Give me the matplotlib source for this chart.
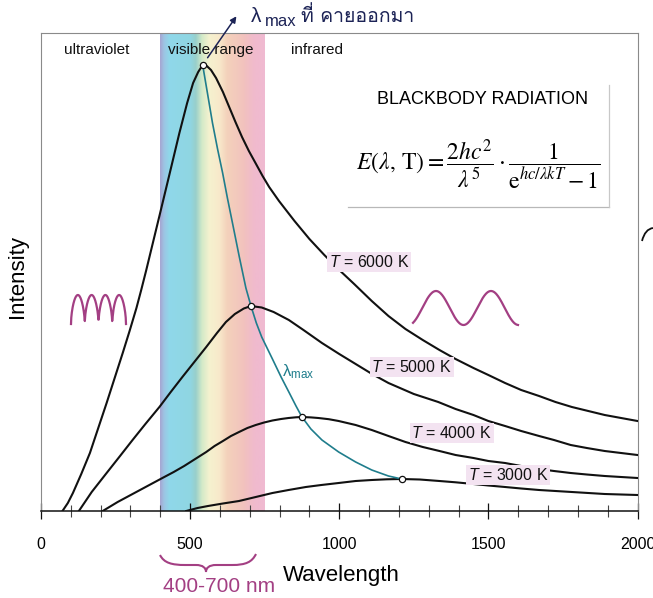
import matplotlib
matplotlib.use("Agg")
import matplotlib.pyplot as plt
import numpy as np
from matplotlib import font_manager
from matplotlib.ft2font import FT2Font
from matplotlib.colors import LinearSegmentedColormap
from matplotlib.lines import Line2D
from matplotlib.patches import PathPatch
from matplotlib.path import Path

# ── data (arbitrary intensity units) ─────────────────────────────────────────
WL_6000 = [72, 90, 107, 135, 164, 192, 220, 247, 274, 297, 320, 336, 353, 375,
           397, 431, 464, 490, 510, 527, 542, 556, 570, 587, 610, 631, 652, 674,
           697, 721, 743, 765, 798, 850, 900, 950, 1000, 1050, 1109, 1165, 1222,
           1280, 1336, 1390, 1450, 1500, 1556, 1610, 1670, 1725, 1780, 1835,
           1890, 1945, 2000]
INT_6000 = [0, 8, 18, 37, 58, 83, 108, 133, 158, 180, 203, 221, 241, 268,
            295, 337, 378, 408, 428, 439, 446, 445, 441, 433, 419, 404, 389, 374,
            360, 347, 335, 324, 310, 290, 272, 256, 241, 227, 210, 195, 182,
            171, 161, 152, 143, 136, 128, 121, 115, 109, 104, 100,
            96, 93, 90]

WL_5000 = [127, 170, 220, 265, 307, 350, 397, 435, 474, 514, 554, 590, 620, 650,
           680, 704, 740, 780, 831, 880, 942, 1000, 1055, 1110, 1165, 1250, 1332,
           1390, 1450, 1500, 1556, 1610, 1670, 1720, 1776, 1830, 1890, 1945, 2000]
INT_5000 = [0, 19, 38, 55, 71, 87, 104, 119, 134, 149, 164, 178, 189, 197,
            202.5, 205, 203.5, 199, 191, 181, 168, 157, 147, 137, 128, 117, 109,
            102, 96, 90, 85, 80, 75, 71, 66, 63, 60, 58, 56]

WL_4000 = [207, 257, 307, 357, 407, 445, 480, 517, 554, 582, 610, 637, 664, 692,
           720, 748, 776, 805, 830, 855, 875, 905, 930, 965, 998, 1055, 1109,
           1165, 1222, 1280, 1336, 1390, 1450, 1500, 1556, 1610, 1670, 1720,
           1776, 1830, 1890, 1945, 2000]
INT_4000 = [0, 9, 17, 25, 33, 39, 45, 52, 59, 65, 70, 75, 79, 83,
            86, 88.5, 90.5, 92, 93, 93.7, 94, 93.6, 93, 91.8, 90, 86, 81,
            75, 69, 64, 60, 56, 53, 50, 48, 45, 42, 40,
            38, 36.5, 35, 34, 33]

WL_3000 = [487, 525, 560, 610, 664, 720, 776, 830, 888, 940, 998, 1055, 1109,
           1160, 1209, 1270, 1336, 1390, 1450, 1500, 1556, 1610, 1670, 1725,
           1780, 1835, 1890, 1945, 2000]
INT_3000 = [0, 3, 5, 7.5, 10, 14, 18, 21, 24, 26, 28, 30, 31,
            31.7, 32, 31.5, 30, 28.7, 27, 25.5, 24, 22.5, 21, 20,
            19, 18, 17, 16.5, 16]

# locus of the peaks (lambda_max)
WL_MAX = [542, 558, 575, 592, 609, 625, 642, 665, 687, 704, 722, 740, 758, 776,
          805, 831, 855, 875, 905, 942, 970, 998, 1055, 1109, 1165, 1209]
INT_MAX = [446, 418, 388, 362, 338, 313, 288, 254, 223, 205, 188, 174, 163, 152,
           134, 119, 105, 94, 82, 71, 65, 59, 49, 41, 35, 32]

PEAK_WL = [542, 704, 875, 1209]
PEAK_INT = [446, 205, 94, 32]

TEMPS = [6000, 5000, 4000, 3000]
LABEL_WL = [965, 1108, 1242, 1432]
LABEL_INT = [249, 144, 78, 36]

VISIBLE = (400, 750)
XTICKS = [0, 500, 1000, 1500, 2000]

# ── style ────────────────────────────────────────────────────────────────────
W, H = 653, 598
INK = "#111111"
TEAL = "#1f7d8c"
NAVY = "#1c2356"
PEN = "#a33f83"
HILITE = "#f3e3f1"

plt.rcParams["font.family"] = ["Liberation Sans", "DejaVu Sans"]
plt.rcParams["mathtext.fontset"] = "custom"
plt.rcParams["mathtext.rm"] = "Liberation Sans"
plt.rcParams["mathtext.it"] = "Liberation Sans:italic"


def thai_family():
    for f in font_manager.fontManager.ttflist:
        try:
            if FT2Font(f.fname).get_char_index(0x0E04):
                return f.name
        except Exception:
            continue
    return "DejaVu Sans"


def px(x, y):
    """pixel position in the picture -> figure fraction"""
    return x / W, 1 - y / H


fig = plt.figure(figsize=(W / 100, H / 100), dpi=100)
fig.patch.set_facecolor("white")
ax = fig.add_axes([41 / W, (H - 511) / H, (637.5 - 41) / W, (511 - 33) / H])
YTOP = 478
ax.set_xlim(0, 2000)
ax.set_ylim(0, YTOP)

# visible band
spec = LinearSegmentedColormap.from_list("spec", [
    (0.00, "#a6a6d2"), (0.04, "#9cc6e4"), (0.09, "#8fd8ea"), (0.29, "#90d6e2"),
    (0.34, "#98cfcb"), (0.40, "#d3eac8"), (0.47, "#f5f2cf"), (0.57, "#f8e8ca"),
    (0.64, "#f4d2bb"), (0.80, "#f2c2be"), (0.90, "#f0bacd"), (1.00, "#f0bad2")])
ax.imshow(np.linspace(0, 1, 256)[None, :], cmap=spec, aspect="auto",
          extent=[VISIBLE[0], VISIBLE[1], 0, YTOP], zorder=0)

for wl, it in [(WL_6000, INT_6000), (WL_5000, INT_5000),
               (WL_4000, INT_4000), (WL_3000, INT_3000)]:
    ax.plot(wl, it, color=INK, lw=1.5, zorder=3, solid_joinstyle="round")

ax.plot(WL_MAX, INT_MAX, color=TEAL, lw=1.2, zorder=4)
ax.plot(PEAK_WL, PEAK_INT, "o", ms=4.5, mfc="white", mec=INK, mew=0.9, zorder=5)

for t, lw_, li in zip(TEMPS, LABEL_WL, LABEL_INT):
    ax.text(lw_, li, f"$T$ = {t} K", fontsize=11.5, ha="left", va="center",
            color=INK, zorder=6,
            bbox=dict(boxstyle="square,pad=0.12", fc=HILITE, ec="none"))

ax.text(808, 139, r"λ$_{\mathrm{max}}$", color=TEAL, fontsize=12,
        ha="left", va="center", zorder=6)

for txt, xw in [("ultraviolet", 187), ("visible range", 568), ("infrared", 925)]:
    ax.text(xw, 461, txt, fontsize=11, ha="center", va="center", color=INK, zorder=6)

# axes look
for s in ["top", "right", "left"]:
    ax.spines[s].set_color("#8a8a8a")
    ax.spines[s].set_linewidth(0.8)
ax.spines["bottom"].set_color(INK)
ax.spines["bottom"].set_linewidth(1.1)
ax.set_yticks([])
ax.set_xticks(XTICKS)
ax.set_xticks(np.arange(0, 2001, 100), minor=True)
ax.tick_params(axis="x", which="major", length=12, width=0.9, direction="inout",
               color=INK, labelsize=11.5, pad=13)
ax.tick_params(axis="x", which="minor", length=8, width=0.8, direction="inout",
               color="#444444")

fig.text(*px(341, 575), "Wavelength", fontsize=16, ha="center", va="center")
fig.text(*px(18, 277), "Intensity", fontsize=16, ha="center", va="center",
         rotation=90)

# title box with formula
fig.text(*px(483, 100), "BLACKBODY RADIATION", fontsize=13, ha="center", va="center")
fig.text(*px(478, 165),
         r"$E(\lambda,\,\mathrm{T}) = \dfrac{2hc^2}{\lambda^5}\cdot"
         r"\dfrac{1}{\mathrm{e}^{hc/\lambda kT}\,\mathrm{-}\,1}$",
         fontsize=17, ha="center", va="center", math_fontfamily="stix")
fig.add_artist(Line2D([348 / W, 609 / W], [1 - 207 / H] * 2, color="#b8b8b8",
                      lw=0.9, transform=fig.transFigure))
fig.add_artist(Line2D([609 / W] * 2, [1 - 85 / H, 1 - 207 / H], color="#c8c8c8",
                      lw=0.9, transform=fig.transFigure))

# ── hand-written notes ───────────────────────────────────────────────────────
ax.annotate("", xy=px(238, 14), xycoords="figure fraction",
            xytext=px(206, 60), textcoords="figure fraction",
            arrowprops=dict(arrowstyle="-|>", color=NAVY, lw=1.1, mutation_scale=9),
            annotation_clip=False)
thai = thai_family()
fig.text(*px(251, 17), "λ", fontsize=15, color=NAVY, ha="left", va="center")
fig.text(*px(265, 22), "max", fontsize=12, color=NAVY, ha="left", va="center")
fig.text(*px(301, 16), "ที่ คายออกมา", fontsize=14, color=NAVY, ha="left",
         va="center", family=[thai, "DejaVu Sans"])

# squiggles (doodles only)
t = np.linspace(0, 1, 200)
xs = 71 + 55 * t
ys = 324 - 29 * np.abs(np.sin(4 * np.pi * t)) ** 0.55
fig.add_artist(Line2D(xs / W, 1 - ys / H, color=PEN, lw=1.6,
                      transform=fig.transFigure))
xs = np.linspace(413, 518, 200)
ys = 308 - 17 * np.cos(2 * np.pi * (xs - 436) / 55)
fig.add_artist(Line2D(xs / W, 1 - ys / H, color=PEN, lw=1.6,
                      transform=fig.transFigure))

# brace under the visible range
brace = [(160, 555), (164, 563), (172, 565), (185, 565), (196, 565),
         (203, 565), (206, 568), (206, 572), (206, 568), (209, 565),
         (216, 565), (232, 565), (246, 565), (252, 562), (256, 554)]
codes = [Path.MOVETO, Path.CURVE4, Path.CURVE4, Path.CURVE4, Path.LINETO,
         Path.CURVE4, Path.CURVE4, Path.CURVE4, Path.CURVE4, Path.CURVE4,
         Path.CURVE4, Path.LINETO, Path.CURVE4, Path.CURVE4, Path.CURVE4]
fig.add_artist(PathPatch(Path([px(*p) for p in brace], codes), fill=False,
                         ec=PEN, lw=1.5, transform=fig.transFigure))
fig.text(*px(219, 587), "400-700 nm", fontsize=15, color=PEN, ha="center",
         va="center")

arc = [(642, 241), (645, 229), (653, 228)]
fig.add_artist(PathPatch(Path([px(*p) for p in arc],
                              [Path.MOVETO, Path.CURVE3, Path.CURVE3]),
                         fill=False, ec=INK, lw=1.3, transform=fig.transFigure))

fig.savefig("out.png", dpi=100, facecolor="white")
